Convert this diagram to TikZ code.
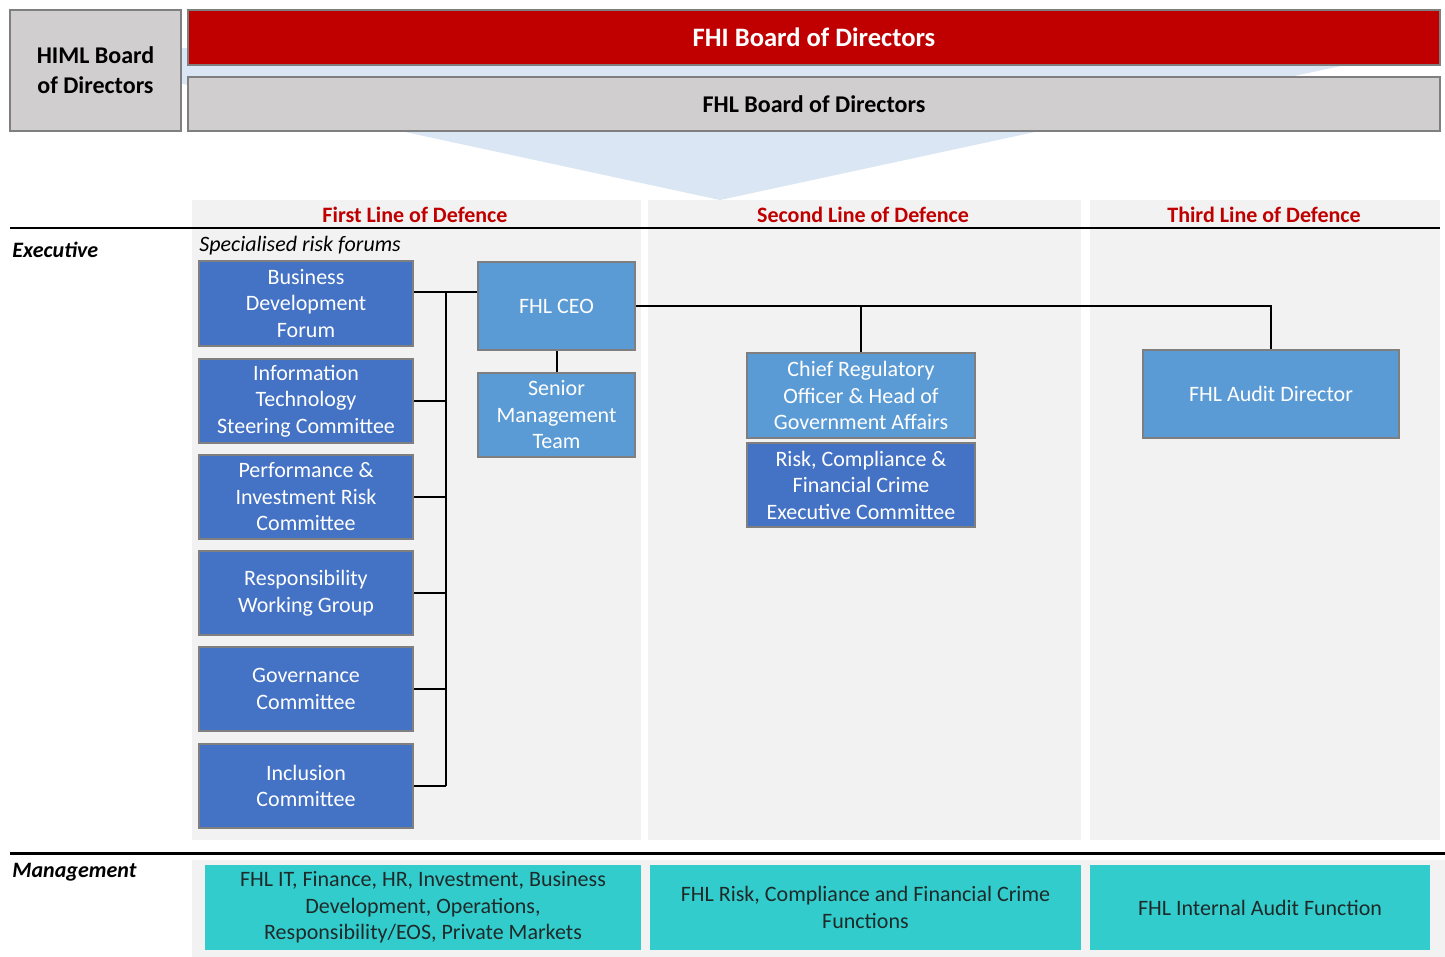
\documentclass[tikz,border=0pt]{standalone}
\usepackage{fontspec}
\setmainfont{Carlito}
\usepackage{tikz}
\usetikzlibrary{arrows,shapes}
\definecolor{boardred}{HTML}{C00000}
\definecolor{boardgray}{HTML}{D0CECE}
\definecolor{boxline}{HTML}{7F7F7F}
\definecolor{chevblue}{HTML}{DAE6F3}
\definecolor{panelgray}{HTML}{F2F2F2}
\definecolor{forumblue}{HTML}{4472C4}
\definecolor{roleblue}{HTML}{5B9BD5}
\definecolor{functeal}{HTML}{33CCCC}
\definecolor{functext}{HTML}{1E2A2A}
\newcommand{\boxfont}{\fontsize{11}{13.25}\selectfont}
\tikzstyle{board}=[draw=boxline,line width=1pt,fill=boardgray,align=center,inner sep=0pt,font=\bfseries\fontsize{12}{15}\selectfont]
\tikzstyle{forum}=[draw=boxline,line width=1pt,fill=forumblue,text=white,align=center,inner sep=0pt,minimum width=107pt,minimum height=42pt,font=\boxfont]
\tikzstyle{role}=[forum,fill=roleblue]
\tikzstyle{func}=[fill=functeal,text=functext,align=center,inner sep=0pt,minimum height=42.5pt,font=\boxfont]
\tikzstyle{lod}=[text=boardred,font=\bfseries\fontsize{11}{13}\selectfont]
\tikzstyle{tier}=[anchor=west,inner sep=0pt,font=\bfseries\itshape\fontsize{11}{13}\selectfont]
\tikzstyle{edge}=[draw,line width=1pt,-]

\begin{document}
\begin{tikzpicture}[x=0.5pt,y=-0.5pt]
      \useasboundingbox (0,0) rectangle (1445,957);
      % chevron behind the boards
      \fill[chevblue] (16,48) -- (1424,48) -- (720,200) -- cycle;
      \node[board,minimum width=85.5pt,minimum height=60.5pt] (himl) at (95.5,70.5) {HIML Board\\of Directors};
      \node[board,fill=boardred,text=white,minimum width=626pt,minimum height=27.5pt,font=\bfseries\fontsize{13.3}{15}\selectfont] (fhi) at (814,37.5) {FHI Board of Directors};
      \node[board,minimum width=626pt,minimum height=27pt] (fhl) at (814,104) {FHL Board of Directors};
      % lines of defence
      \fill[panelgray] (192,200) rectangle (641,840);
      \fill[panelgray] (648,200) rectangle (1081,840);
      \fill[panelgray] (1090,200) rectangle (1440,840);
      \fill[panelgray] (192,860) rectangle (1445,957);
      \node[lod] (first) at (415,215) {First Line of Defence};
      \node[lod] (second) at (863,215) {Second Line of Defence};
      \node[lod] (third) at (1264,215) {Third Line of Defence};
      \draw[line width=1pt] (10,228) -- (1440,228);
      \draw[line width=1.5pt] (10,853) -- (1445,853);
      \node[tier] (exec) at (12,250) {Executive};
      \node[tier] (mgmt) at (12,872) {Management};
      \node[anchor=west,inner sep=0pt,font=\itshape\boxfont] (forums) at (199,246) {Specialised risk forums};
      % first line
      \node[forum] (bdf) at (306,303.5) {Business\\Development\\Forum};
      \node[forum] (itsc) at (306,401) {Information\\Technology\\Steering Committee};
      \node[forum] (pirc) at (306,497) {Performance \&\\Investment Risk\\Committee};
      \node[forum] (rwg) at (306,593) {Responsibility\\Working Group};
      \node[forum] (gov) at (306,689) {Governance\\Committee};
      \node[forum] (inc) at (306,786) {Inclusion\\Committee};
      \node[role,minimum width=78.5pt,minimum height=44pt] (ceo) at (556.5,306) {FHL CEO};
      \node[role,minimum width=78.5pt] (smt) at (556.5,415) {Senior\\Management\\Team};
      % second and third line
      \node[role,minimum width=114pt,minimum height=42.5pt] (cro) at (861,395.5) {Chief Regulatory\\Officer \& Head of\\Government Affairs};
      \node[forum,minimum width=114pt] (rcfc) at (861,485) {Risk, Compliance \&\\Financial Crime\\Executive Committee};
      \node[role,minimum width=128pt,minimum height=44pt] (audit) at (1271,394) {FHL Audit Director};
      \node[func,minimum width=218pt] (ops) at (423,907.5) {FHL IT, Finance, HR, Investment, Business\\Development, Operations,\\Responsibility/EOS, Private Markets};
      \node[func,minimum width=215.5pt] (riskfn) at (865.5,907.5) {FHL Risk, Compliance and Financial Crime\\Functions};
      \node[func,minimum width=170pt] (auditfn) at (1260,907.5) {FHL Internal Audit Function};
      % connectors
      \coordinate (bustop) at (446,292);
      \coordinate (busbot) at (446,786);
      \draw[edge] (bustop) to (busbot);
      \draw[edge] (bdf.east |- bustop) to (ceo.west |- bustop);
      \draw[edge] (itsc.east) to (itsc.east -| bustop);
      \draw[edge] (pirc.east) to (pirc.east -| bustop);
      \draw[edge] (rwg.east) to (rwg.east -| bustop);
      \draw[edge] (gov.east) to (gov.east -| bustop);
      \draw[edge] (inc.east) to (busbot);
      \draw[edge] (ceo) to (smt);
      \draw[edge] (ceo.east) -| (cro.north);
      \draw[edge] (ceo.east) -| (audit.north);
    \end{tikzpicture}
\end{document}
